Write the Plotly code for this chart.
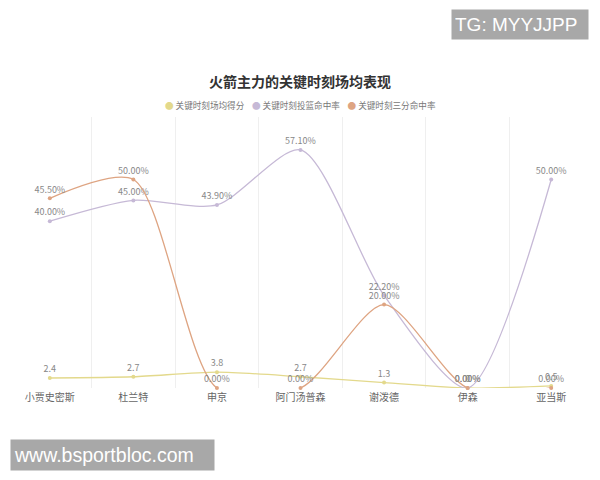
import plotly.graph_objects as go

# ------------------------------------------------------------
# data
# ------------------------------------------------------------
players = ["小贾史密斯", "杜兰特", "申京", "阿门汤普森", "谢泼德", "伊森", "亚当斯"]
clutch_pts = [2.4, 2.7, 3.8, 2.7, 1.3, 0.0, 0.5]
clutch_fg = [40.00, 45.00, 43.90, 57.10, 22.20, 0.00, 50.00]
clutch_3p = [45.50, 50.00, 0.00, 0.00, 20.00, 0.00, 0.00]

series_names = ["关键时刻场均得分", "关键时刻投篮命中率", "关键时刻三分命中率"]
colors = ["#e3d98c", "#c6b9d6", "#dea482"]

FONT = "Noto Sans CJK SC"
xpos = list(range(len(players)))

# the page body adds an 8px margin, so the figure is 8px smaller
W, H = 592, 472

fig = go.Figure()

series = [
    (clutch_pts, [f"{v:g}" for v in clutch_pts]),
    (clutch_fg, [f"{v:.2f}%" for v in clutch_fg]),
    (clutch_3p, [f"{v:.2f}%" for v in clutch_3p]),
]

for (vals, labels), name, c in zip(series, series_names, colors):
    fig.add_trace(go.Scatter(
        x=xpos, y=vals, name=name,
        mode="lines+markers+text",
        line=dict(color=c, width=1.3, shape="spline", smoothing=0.75),
        marker=dict(color=c, size=4),
        text=labels, textposition="top center",
        textfont=dict(size=9, color="#888888", family=FONT),
        showlegend=False, cliponaxis=False,
    ))

fig.update_xaxes(
    range=[-0.5, len(players) - 0.5],
    tickvals=xpos, ticktext=players,
    showgrid=False, zeroline=False, showline=False,
    tickfont=dict(size=10, color="#666666", family=FONT),
    ticks="", ticklabelstandoff=2,
    minor=dict(tickvals=[i + 0.5 for i in xpos[:-1]], showgrid=True,
               gridcolor="#efefef", gridwidth=1, ticks=""),
)
fig.update_yaxes(range=[0, 65], visible=False, showgrid=False, zeroline=False)

# legend drawn as one centred line of coloured dots + names
legend_text = "    ".join(
    f'<span style="color:{c}">●</span> {n}' for n, c in zip(series_names, colors)
)

fig.update_layout(
    width=W, height=H,
    margin=dict(l=0, r=7, t=109, b=92),
    paper_bgcolor="white", plot_bgcolor="white",
    font=dict(family=FONT),
    showlegend=False,
    title=dict(
        text="<b>火箭主力的关键时刻场均表现</b>",
        x=292 / W, xanchor="center", yref="container", y=1 - 74 / H,
        yanchor="middle", font=dict(size=14, color="#333333", family=FONT),
    ),
    annotations=[
        dict(text=legend_text, xref="paper", yref="paper",
             x=292 / 585, y=1 + (109 - 97) / 271,
             xanchor="center", yanchor="middle", showarrow=False,
             font=dict(size=8.6, color="#777777", family=FONT)),
        dict(text="TG: MYYJJPP", xref="paper", yref="paper",
             x=443 / 585, y=1 + (109 - 16.5) / 271,
             xanchor="left", yanchor="middle", showarrow=False,
             width=130, height=23, align="left",
             font=dict(size=19, color="white", family="Liberation Sans"),
             bgcolor="#a8a8a8", borderpad=3),
        dict(text="www.bsportbloc.com", xref="paper", yref="paper",
             x=2 / 585, y=-(447 - 380) / 271,
             xanchor="left", yanchor="middle", showarrow=False,
             width=197, height=24, align="left",
             font=dict(size=19.5, color="white", family="Liberation Sans"),
             bgcolor="#a8a8a8", borderpad=3),
    ],
)

fig.write_html("out.html")
